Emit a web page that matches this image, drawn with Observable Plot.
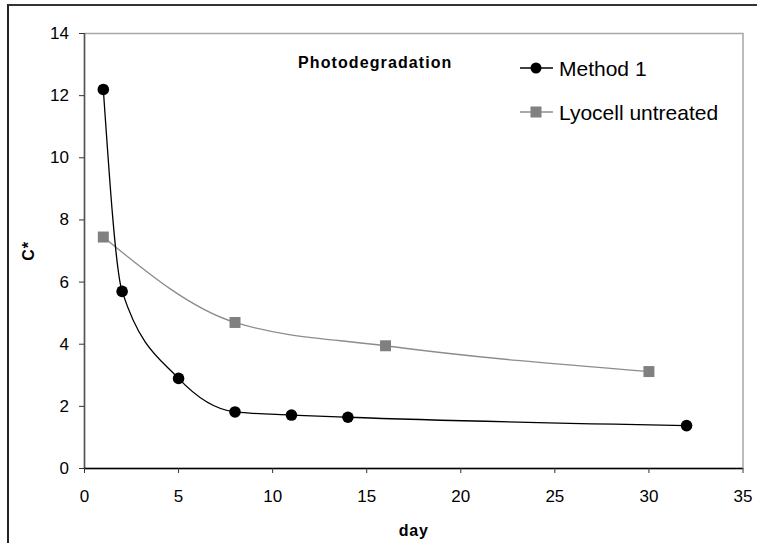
<!DOCTYPE html>
<html>
<head>
<meta charset="utf-8">
<script src="https://cdn.jsdelivr.net/npm/d3@7"></script>
<script src="https://cdn.jsdelivr.net/npm/@observablehq/plot@0.6"></script>
<style>
  html, body { margin: 0; padding: 0; background: #fff; }
  #wrap { position: relative; width: 757px; height: 543px; overflow: hidden; }
  #border { position: absolute; left: 7px; top: 4px; width: 800px; height: 600px;
            border-left: 2px solid #222; border-top: 2px solid #333; pointer-events: none; }
  #chart svg { display: block; }
  #chart svg text { font-family: "Liberation Sans", Arial, sans-serif; fill: #000; }
  #chart svg g[aria-label="y-axis label"] text,
  #chart svg g[aria-label="x-axis label"] text { font-weight: bold; letter-spacing: 0.8px; }
  #overlay { position: absolute; left: 0; top: 0; pointer-events: none;
             font-family: "Liberation Sans", Arial, sans-serif; }
</style>
</head>
<body>
<div id="wrap">
  <div id="chart"></div>
  <svg id="overlay" width="757" height="543"></svg>
  <div id="border"></div>
</div>
<script>
// ---- data ----
const method1Day = [1, 2, 5, 8, 11, 14, 32];
const method1C   = [12.2, 5.7, 2.9, 1.82, 1.72, 1.65, 1.38];
const lyocellDay = [1, 8, 16, 30];
const lyocellC   = [7.45, 4.7, 3.95, 3.12];
const xTicks = [0, 5, 10, 15, 20, 25, 30, 35];
const yTicks = [0, 2, 4, 6, 8, 10, 12, 14];
const seriesNames = ["Method 1", "Lyocell untreated"];
const chartTitle = "Photodegradation";
const xLabel = "day";
const yLabel = "C*";

const method1 = method1Day.map((d, i) => ({day: d, c: method1C[i]}));
const lyocell = lyocellDay.map((d, i) => ({day: d, c: lyocellC[i]}));

const plotSvg = Plot.plot({
  width: 757,
  height: 543,
  marginLeft: 84,
  marginRight: 14.5,
  marginTop: 33,
  marginBottom: 75,
  style: {fontFamily: '"Liberation Sans", Arial, sans-serif', fontSize: "17px", color: "#000", background: "#fff"},
  x: {domain: [0, 35]},
  y: {domain: [0, 14]},
  marks: [
    Plot.frame({stroke: "#a6a6a6", strokeWidth: 1.5}),
    Plot.ruleX([0], {stroke: "#555", strokeWidth: 1.5}),
    Plot.ruleY([0], {stroke: "#000", strokeWidth: 1.5}),
    Plot.axisY({ticks: yTicks, tickSize: 5, tickPadding: 10.5, stroke: "#333", fontSize: 17, label: null}),
    Plot.axisY({ticks: [], label: yLabel, labelAnchor: "center", labelOffset: 62, labelArrow: "none", fontSize: 16}),
    Plot.axisX({ticks: xTicks, tickSize: 5, tickPadding: 16.5, stroke: "#333", fontSize: 17, label: null}),
    Plot.axisX({ticks: [], label: xLabel, labelAnchor: "center", labelOffset: 67, labelArrow: "none", fontSize: 16}),
    Plot.line(lyocell, {x: "day", y: "c", curve: "monotone-x", stroke: "#8c8c8c", strokeWidth: 1.3}),
    Plot.line(method1, {x: "day", y: "c", curve: "monotone-x", stroke: "#000", strokeWidth: 1.3}),
    Plot.dot(lyocell, {x: "day", y: "c", symbol: "square", r: 6.2, fill: "#808080", stroke: "none"}),
    Plot.dot(method1, {x: "day", y: "c", r: 5.8, fill: "#000", stroke: "none"})
  ]
});
document.getElementById("chart").appendChild(plotSvg);

// ---- title and legend overlay ----
const ov = d3.select("#overlay");
ov.append("text").attr("x", 298).attr("y", 68)
  .attr("font-size", 16).attr("font-weight", "bold").attr("letter-spacing", "1.1px")
  .text(chartTitle);

const rows = [
  {name: seriesNames[0], y: 68, color: "#000", line: "#000", sym: "circle"},
  {name: seriesNames[1], y: 112, color: "#808080", line: "#8c8c8c", sym: "square"}
];
rows.forEach(r => {
  ov.append("line").attr("x1", 520).attr("x2", 553).attr("y1", r.y).attr("y2", r.y)
    .attr("stroke", r.line).attr("stroke-width", 1.3);
  if (r.sym === "circle") {
    ov.append("circle").attr("cx", 536).attr("cy", r.y).attr("r", 5.5).attr("fill", r.color);
  } else {
    ov.append("rect").attr("x", 530.5).attr("y", r.y - 5.5).attr("width", 11).attr("height", 11).attr("fill", r.color);
  }
  ov.append("text").attr("x", 559).attr("y", r.y + 8)
    .attr("font-size", 21).text(r.name);
});
</script>
</body>
</html>
